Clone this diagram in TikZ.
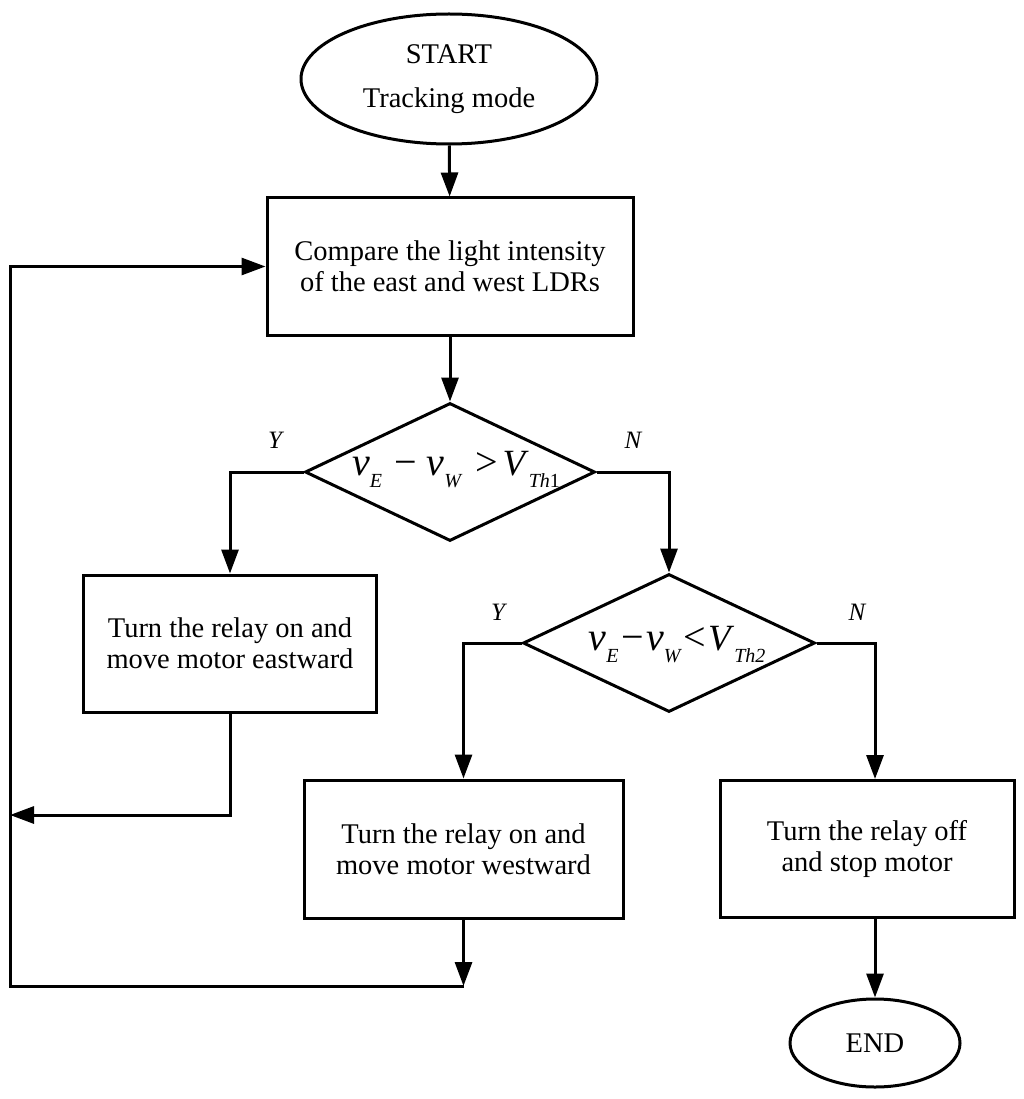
\documentclass[tikz,border=0pt]{standalone}
\usepackage{fontspec}
\setmainfont{Liberation Serif}
\usetikzlibrary{arrows.meta,shapes.geometric}
\newcommand\vsub[1]{\raisebox{-12pt}{\fontsize{20}{20}\selectfont\itshape #1}}
\newcommand\vvar{{\fontsize{40}{40}\selectfont\itshape v}}
\newcommand\relsym[1]{{\fontsize{40}{40}\selectfont #1}}
\begin{document}
\begin{tikzpicture}[x=1pt,y=-1pt,
  every node/.style={font=\fontsize{28.5}{31}\selectfont, inner sep=0pt},
  procbox/.style={draw, line width=3pt, rectangle, align=center},
  termnode/.style={draw, line width=3pt, ellipse, align=center},
  decnode/.style={draw, line width=3pt, diamond, minimum width=#1, minimum height=138pt},
  exprtext/.style={font=\fontsize{37}{37}\selectfont},
  yn/.style={font=\fontsize{25}{25}\selectfont\itshape},
  arr/.style={line width=3pt, -{Triangle[length=24pt,width=17pt]}}]
\useasboundingbox (0,0) rectangle (1024,1099);

\node[termnode, minimum width=296pt, minimum height=130pt,
      font=\fontsize{28.5}{44}\selectfont] (start) at (449,79) {START\\Tracking mode};
\node[procbox, minimum width=366pt, minimum height=137pt] (cmp) at (450,266.5)
  {Compare the light intensity\\ of the east and west LDRs};
\node[decnode=290pt] (d1) at (450,472) {};
\node[exprtext] (e1) at (456,470)
  {\vvar\vsub{E}\hspace{12pt}\relsym{−}\hspace{10pt}\vvar\vsub{W}\hspace{14pt}\relsym{>}\hspace{5pt}\textit{V}\vsub{Th\textup{1}}};
\node[yn] (y1) at (275,440) {Y};
\node[yn] (n1) at (633,440) {N};

\node[procbox, minimum width=293pt, minimum height=137pt] (east) at (230,643.5)
  {Turn the relay on and\\move motor eastward};
\node[decnode=292pt] (d2) at (669,643) {};
\node[exprtext] (e2) at (677,645)
  {\vvar\vsub{E}\hspace{3pt}\relsym{−}\hspace{2pt}\vvar\vsub{W}\hspace{3pt}\relsym{<}\hspace{2pt}\textit{V}\vsub{Th2}};
\node[yn] (y2) at (498,612) {Y};
\node[yn] (n2) at (857,612) {N};

\node[procbox, minimum width=319pt, minimum height=138pt] (west) at (463.5,849)
  {Turn the relay on and\\move motor westward};
\node[procbox, minimum width=294pt, minimum height=137pt] (stop) at (867,849)
  {Turn the relay off\\and stop motor};
\node[termnode, minimum width=170pt, minimum height=88pt] (end) at (875,1043) {END};

\coordinate (c4) at (875,0);
\coordinate (fbA) at (10,815);
\coordinate (fbB) at (463.5,986);
\coordinate (fbC) at (10,986);

\draw[arr] (start) -- (cmp);
\draw[arr] (cmp) -- (d1);
\draw[arr] (d1.west) -| (east.north);
\draw[arr] (d1.east) -| (d2.north);
\draw[arr] (d2.west) -| (west.north);
\draw[arr] (d2.east) -| (c4 |- stop.north);
\draw[arr] (c4 |- stop.south) -- (end.north);
\draw[arr] (east.south) |- (fbA);
\draw[arr] (west.south) -- (fbB);
\draw[arr] (fbB) -- (fbC) |- (cmp.west);
\end{tikzpicture}
\end{document}
